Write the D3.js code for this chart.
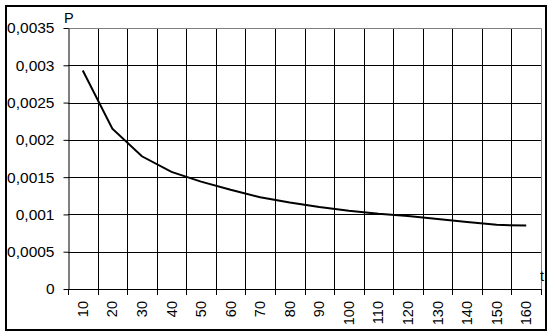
<!DOCTYPE html>
<html><head><meta charset="utf-8">
<script src="https://cdn.jsdelivr.net/npm/d3@7"></script>
<style>body{margin:0;background:#fff}svg{display:block}text{font-family:"Liberation Sans",Arial,sans-serif}</style>
</head><body>
<script>
const categories = [10,20,30,40,50,60,70,80,90,100,110,120,130,140,150,160];
const values = [0.00293,0.00215,0.00178,0.00157,0.00144,0.00133,0.00123,0.00116,0.0011,0.00105,0.00101,0.00098,0.00094,0.0009,0.00086,0.00085];
const yTicks = [0,0.0005,0.001,0.0015,0.002,0.0025,0.003,0.0035];
const yTickLabels = ["0","0,0005","0,001","0,0015","0,002","0,0025","0,003","0,0035"];
const yAxisTitle = "P", xAxisTitle = "t";

const W=555,H=336, L=68, R=541, T=28, B=289;
const svg=d3.select("body").append("svg").attr("width",W).attr("height",H);
svg.append("rect").attr("x",6).attr("y",6).attr("width",540).attr("height",324).attr("fill","#fff").attr("stroke","#000").attr("stroke-width",2);

const x=d3.scaleBand().domain(categories).range([L,R]);
const y=d3.scaleLinear().domain([0,0.0035]).range([B,T]);

// horizontal gridlines
svg.append("g").selectAll("line").data(yTicks.filter(d=>d>0&&d<0.0035)).join("line")
 .attr("x1",L).attr("x2",R).attr("y1",d=>Math.round(y(d))+0.5).attr("y2",d=>Math.round(y(d))+0.5).attr("stroke","#000");
// vertical gridlines at band boundaries
const bounds = categories.map(c=>x(c)).concat([R]);
svg.append("g").selectAll("line").data(bounds.slice(1,-1)).join("line")
 .attr("x1",d=>Math.round(d)+0.5).attr("x2",d=>Math.round(d)+0.5).attr("y1",T).attr("y2",B).attr("stroke","#000");
// plot frame top/right gray
svg.append("path").attr("d",`M${L},${T+0.5}H${R+0.5}V${B}`).attr("fill","none").attr("stroke","#808080");

// y axis
const ya=svg.append("g").attr("transform",`translate(${L+0.5},0)`)
 .call(d3.axisLeft(y).tickValues(yTicks).tickFormat((d,i)=>yTickLabels[i]).tickSize(5).tickSizeOuter(0));
ya.select(".domain").attr("stroke","#000");
ya.selectAll("line").attr("stroke","#000");
ya.selectAll("text").attr("font-size",15.5).attr("fill","#000").attr("x",-14).attr("font-family","Liberation Sans, Arial, sans-serif");

// x axis
const xg=svg.append("g");
xg.append("line").attr("x1",L).attr("x2",R+1).attr("y1",B+0.5).attr("y2",B+0.5).attr("stroke","#000");
xg.selectAll("line.tk").data(bounds).join("line").attr("class","tk")
 .attr("x1",d=>Math.round(d)+0.5).attr("x2",d=>Math.round(d)+0.5).attr("y1",B).attr("y2",B+6).attr("stroke","#000");
xg.selectAll("text").data(categories).join("text")
 .attr("transform",d=>`translate(${x(d)+x.bandwidth()/2},${B+12}) rotate(-90)`)
 .attr("text-anchor","end").attr("dy","0.35em").attr("font-size",14.5).attr("fill","#000").text(d=>d);

// line
svg.append("path").datum(values).attr("fill","none").attr("stroke","#000").attr("stroke-width",2)
 .attr("d",d3.line().x((d,i)=>x(categories[i])+x.bandwidth()/2).y(d=>y(d)));

svg.append("text").attr("x",64).attr("y",23).attr("font-size",14.5).text(yAxisTitle);
svg.append("text").attr("x",540).attr("y",281).attr("font-size",14.5).text(xAxisTitle);
</script>
</body></html>
